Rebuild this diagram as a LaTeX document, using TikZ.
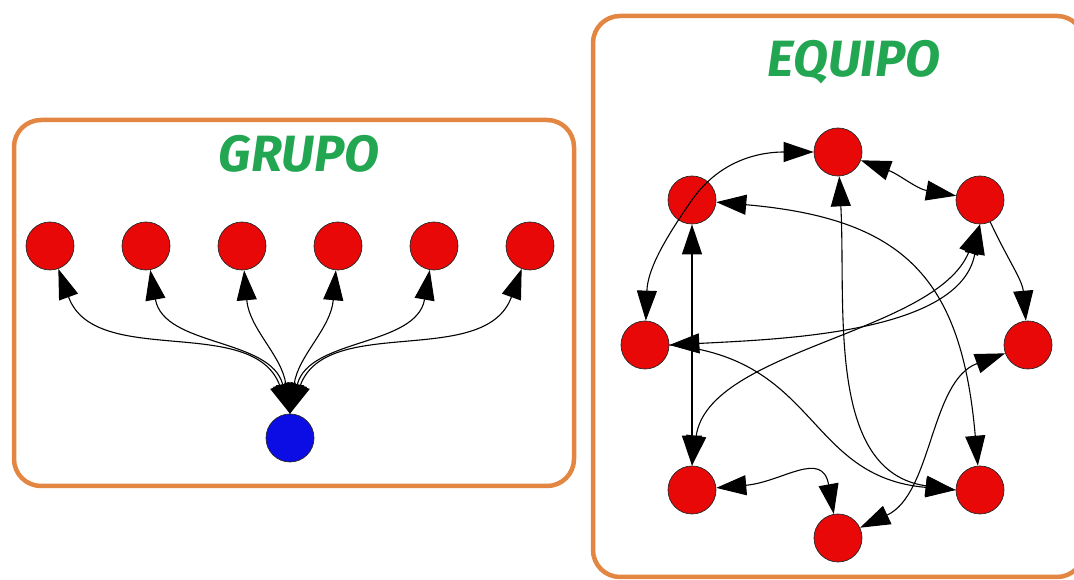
\documentclass[tikz,border=0pt]{standalone}
\usepackage{fontspec}
\newfontfamily\titlefont{Fira Sans}
\usepackage{xcolor}
\usetikzlibrary{arrows.meta}

\definecolor{boxorange}{RGB}{226,134,66}
\definecolor{titlegreen}{RGB}{34,166,82}
\definecolor{nodered}{RGB}{232,8,8}
\definecolor{nodeblue}{RGB}{12,12,228}

\tikzset{
    member/.style={circle, fill=nodered, draw=black!85, line width=0.7pt, minimum size=48pt, inner sep=0pt},
    leader/.style={member, fill=nodeblue},
    link/.style={line width=1.1pt, >={Triangle[length=30pt,width=20pt]}, <->},
    onelink/.style={line width=1.1pt, >={Triangle[length=30pt,width=20pt]}, ->},
    frame/.style={draw=boxorange, line width=4.5pt, rounded corners=27pt},
    title/.style={text=titlegreen, anchor=base, font=\titlefont\bfseries\itshape\fontsize{51}{60}\selectfont}
}

\begin{document}
\begin{tikzpicture}[x=1pt,y=1pt]
        \useasboundingbox (0,0) rectangle (1074,580);

        % the two boxes
        \draw[frame] (14,94) rectangle (574,460);
        \draw[frame] (593,3) rectangle (1084,564);

        \node[title] (grupo) at (299,408) {GRUPO};
        \node[title] (equipo) at (854,503) {EQUIPO};

        % group: one leader, six members
        \node[leader] (lead) at (290,142) {};
        \node[member] (g1) at (50,334) {};
        \node[member] (g2) at (146,334) {};
        \node[member] (g3) at (242,334) {};
        \node[member] (g4) at (338,334) {};
        \node[member] (g5) at (434,334) {};
        \node[member] (g6) at (530,334) {};

        \draw[link] (lead.north) to[out=110,in=-70] (g1);
        \draw[link] (lead.north) to[out=104,in=-80] (g2);
        \draw[link] (lead.north) to[out=98,in=-85] (g3);
        \draw[link] (lead.north) to[out=82,in=-95] (g4);
        \draw[link] (lead.north) to[out=76,in=-100] (g5);
        \draw[link] (lead.north) to[out=70,in=-110] (g6);

        % team: eight members, clockwise from the top
        \node[member] (e1) at (838,428) {};
        \node[member] (e2) at (980,380) {};
        \node[member] (e3) at (1028,235) {};
        \node[member] (e4) at (980,90) {};
        \node[member] (e5) at (838,42) {};
        \node[member] (e6) at (692,90) {};
        \node[member] (e7) at (645,235) {};
        \node[member] (e8) at (692,380) {};

        \draw[link] (e7) to[out=88,in=235] (e8.center) to[out=55,in=180] (e1);
        \draw[link] (e1) to[out=-20,in=170] (e2);
        \draw[link] (e1) to[out=-87,in=172] (e4.west);
        \draw[link] (e8) -- (e6);
        \draw[link] (e8) to[out=-5,in=95,looseness=1.3] (e4);
        \draw[link] (e2.south) to[out=-100,in=3,looseness=0.85] (e7.east);
        \draw[link] (e2.south) to[out=-112,in=82,looseness=0.8] (e6.north);
        \draw[onelink] (e2) to[out=-65,in=95] (e3);
        \draw[onelink] (e7.east) to[out=-5,in=175,looseness=1.2] (e4.west);
        \draw[link] (e3) to[out=200,in=25,looseness=0.9] (e5);
        \draw[link] (e6) to[out=5,in=100,looseness=1.4] (e5);
    \end{tikzpicture}
\end{document}
